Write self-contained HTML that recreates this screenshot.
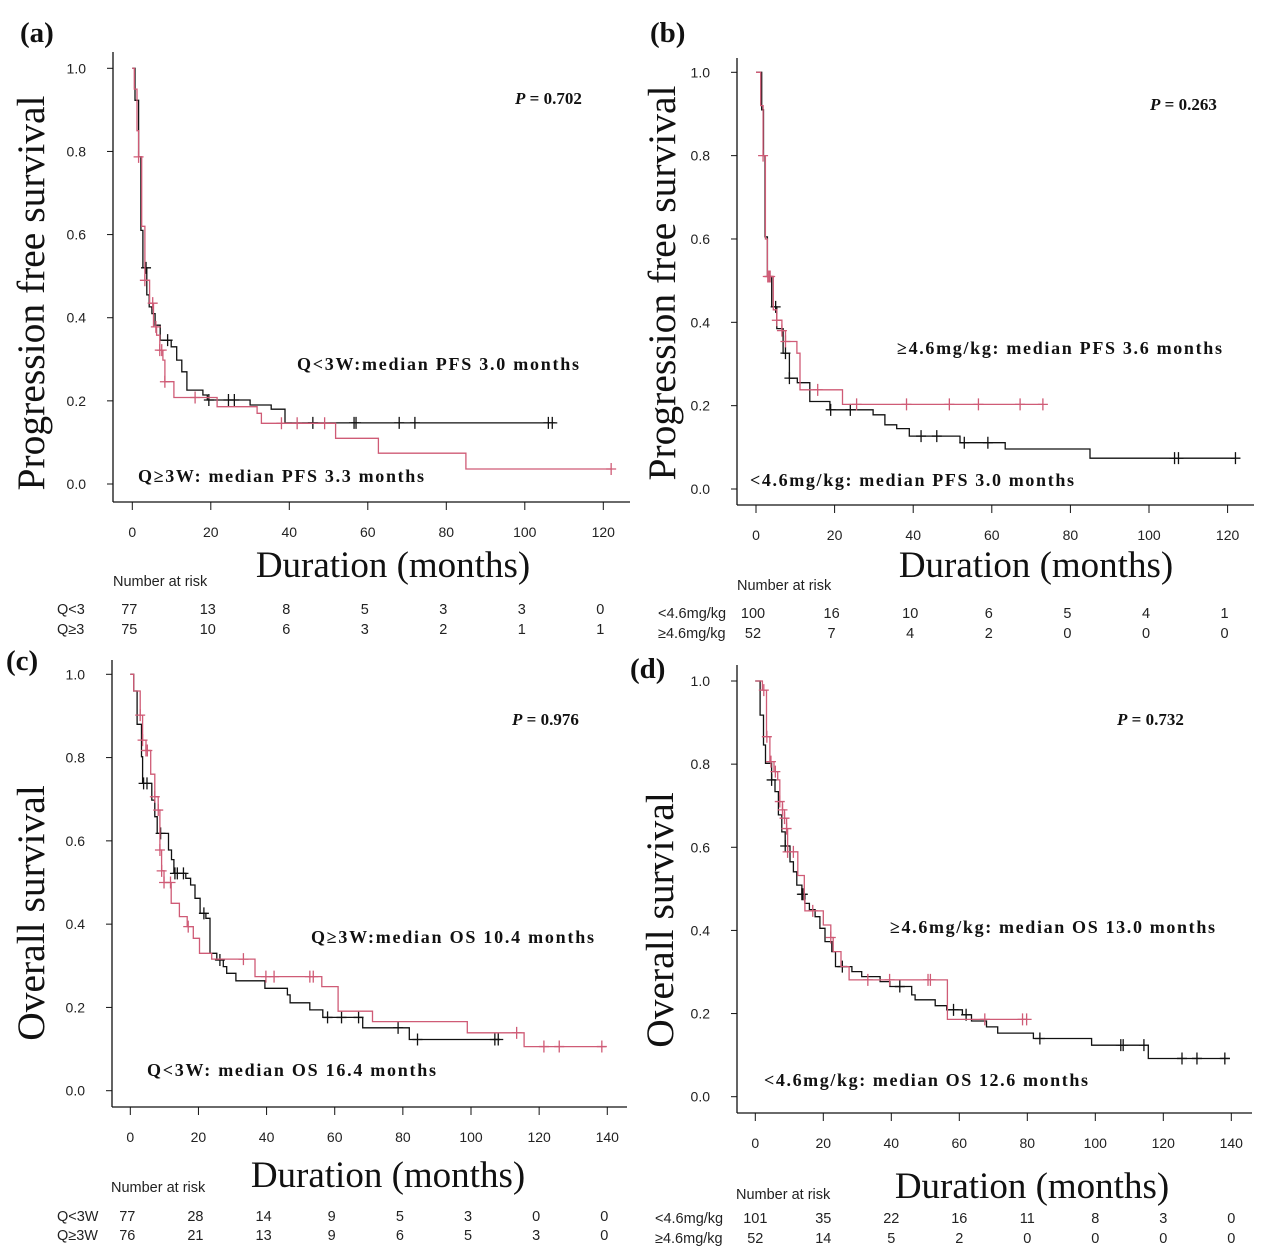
<!DOCTYPE html>
<html><head><meta charset="utf-8"><style>
html,body{margin:0;padding:0;background:#fff}
svg{display:block}
.tk{font-family:"Liberation Sans",sans-serif;font-size:14px;fill:#222}
.rk{font-family:"Liberation Sans",sans-serif;font-size:14.5px;fill:#222}
.ser{font-family:"Liberation Serif",serif;fill:#111}
</style></head><body>
<svg id="fig" width="1280" height="1255" viewBox="0 0 1280 1255" xmlns="http://www.w3.org/2000/svg"></svg>
<script>
// ---- data (months, survival probability) ----
const aBlackT=[0.7,1.6,2.2,2.7,3.7,4.3,5,5.8,7.1,9.9,11.3,12.6,13.9,18,19.1,30,35.4,38.9];
const aBlackS=[.923,.787,.61,.52,.455,.426,.41,.382,.346,.33,.298,.27,.226,.214,.202,.19,.18,.147];
const aBlackEnd=107.8;
const aBlackC=[3.5,9,19.5,24.5,26,46,56.5,57,68,72,106,107];
const aRedT=[0.5,1.2,1.6,2.4,3.2,4.4,5.4,6.2,7,7.8,8.3,10.6,21.6,31.8,32.9,51.8,62.7,85];
const aRedS=[.95,.85,.787,.62,.49,.435,.378,.358,.322,.298,.246,.208,.186,.17,.146,.11,.074,.036];
const aRedEnd=122;
const aRedC=[1.6,3.2,5.2,6,7,7.5,8.3,16,38,42,49,122];

const bBlackT=[1.45,1.9,2.3,2.9,4,5.3,6.9,8.5,10.5,13.7,18.8,29.8,32.8,35.8,39,51.9,63.4,85];
const bBlackS=[.91,.8,.605,.51,.437,.385,.326,.266,.255,.21,.19,.178,.154,.145,.127,.111,.096,.074];
const bBlackEnd=122;
const bBlackC=[5,7.5,8.5,19,24,42,46,53,59,106.5,107.5,122];
const bRedT=[1.2,1.8,2.4,2.9,4.4,5.3,6.6,7.5,10.4,11.2,22];
const bRedS=[.92,.8,.6,.51,.43,.405,.38,.354,.326,.238,.203];
const bRedEnd=73;
const bRedC=[1.8,3,3.3,3.6,5.3,6.6,7.5,15.7,25.6,38.3,49.2,56.6,67.2,73];

const cBlackT=[1,2,3.3,3.6,6.3,7.2,7.9,11.2,12.1,12.8,16.3,17.7,19,20.5,22.2,23.4,25.4,27.3,28.3,31,39.5,46.1,46.9,52.7,56.5,68.2,81.9];
const cBlackS=[.96,.88,.802,.738,.698,.658,.618,.578,.555,.522,.51,.494,.462,.426,.414,.33,.314,.298,.282,.264,.246,.23,.211,.194,.176,.151,.123];
const cBlackEnd=108.5;
const cBlackC=[3.9,4.9,8.9,13.1,13.8,15.6,21.6,26.3,57.9,62,67,78.6,84.3,107,108];
const cRedT=[1,2.9,3.6,4.6,6,7.2,8.2,8.7,9.2,9.9,12,14.4,16.7,18.5,20.3,23.9,36.6,56.2,61,71.1,98.9,115.6];
const cRedS=[.96,.902,.842,.817,.76,.706,.674,.578,.528,.5,.45,.418,.394,.366,.33,.316,.274,.25,.191,.166,.139,.106];
const cRedEnd=139.6;
const cRedC=[2.9,3.6,4.6,5,7.2,8.2,8.7,9.2,9.9,11.8,17,33.2,39.8,42.2,52.7,53.7,113.4,121.4,125.9,138.4];

const dBlackT=[1.4,2.4,3,4.8,5.8,6.8,7.8,8.8,10.2,11.2,12.2,13.7,14.6,15.9,17.6,19,20.5,22.5,23.6,28.4,31.3,36.7,39.6,46,47,52.9,56.3,60.9,63.6,68,71.3,81.8,98.9,115.6];
const dBlackS=[.918,.846,.802,.762,.734,.678,.637,.603,.565,.541,.509,.487,.465,.45,.433,.405,.373,.349,.313,.301,.289,.277,.265,.245,.233,.219,.209,.197,.182,.168,.153,.14,.124,.092];
const dBlackEnd=139.6;
const dBlackC=[4.8,8.8,13.7,14,25.6,42.5,58.3,62,83.7,107.5,108.2,114.3,125.5,129.9,138.1];
const dRedT=[2.1,3.3,4.3,5.5,6.6,7.2,8,8.6,9.2,9.5,12.5,14.4,14.6,20,22.2,22.9,25.2,27.6,56.5];
const dRedS=[.978,.866,.806,.782,.762,.71,.69,.67,.645,.589,.532,.473,.447,.413,.383,.349,.313,.281,.186];
const dRedEnd=79.8;
const dRedC=[2.5,3.4,4.6,5.9,7.2,8,8.6,9.2,9.5,11.2,16.9,22.2,33.1,39.5,50.8,51.5,67.5,78.6,79.8];

const yTicks=["0.0","0.2","0.4","0.6","0.8","1.0"];
const xTicksPFS=[0,20,40,60,80,100,120];
const xTicksOS=[0,20,40,60,80,100,120,140];
const aRisk1=[77,13,8,5,3,3,0], aRisk2=[75,10,6,3,2,1,1];
const bRisk1=[100,16,10,6,5,4,1], bRisk2=[52,7,4,2,0,0,0];
const cRisk1=[77,28,14,9,5,3,0,0], cRisk2=[76,21,13,9,6,5,3,0];
const dRisk1=[101,35,22,16,11,8,3,0], dRisk2=[52,14,5,2,0,0,0,0];

const RED="#cf5b76", REDTXT="#b9506b";
const NS="http://www.w3.org/2000/svg";
const svg=document.getElementById('fig');
function mk(tag,attrs,parent,text){const e=document.createElementNS(NS,tag);for(const k in attrs)e.setAttribute(k,attrs[k]);if(text!==undefined)e.textContent=text;(parent||svg).appendChild(e);return e;}

function panel(cfg){
  const g=mk('g',{});
  
  
  const X=t=>cfg.x0+t*cfg.ppm;
  const Y=s=>cfg.y0-s*(cfg.y0-cfg.y1);
  const ya=mk('line',{x1:cfg.ax,y1:cfg.axTop,x2:cfg.ax,y2:cfg.ay,stroke:'#111','stroke-width':1.3},g);
  
  const xa=mk('line',{x1:cfg.ax,y1:cfg.ay,x2:cfg.axRight,y2:cfg.ay,stroke:'#111','stroke-width':1.3},g);
  
  yTicks.forEach(lbl=>{const y=Y(parseFloat(lbl));
    mk('line',{x1:cfg.ax-6,y1:y,x2:cfg.ax,y2:y,stroke:'#111','stroke-width':1},g);
    const t=mk('text',{x:cfg.ax-27,y:y+5,'text-anchor':'end',class:'tk'},g,lbl);
    });
  cfg.xt.forEach(v=>{const x=X(v);
    mk('line',{x1:x,y1:cfg.ay,x2:x,y2:cfg.ay+8,stroke:'#111','stroke-width':1},g);
    const t=mk('text',{x:x,y:cfg.ay+35,'text-anchor':'middle',class:'tk'},g,String(v));
    });
  cfg.series.forEach(sr=>{
    let d='M'+X(0)+','+Y(1);
    sr.t.forEach((t,i)=>{d+=' H'+X(t).toFixed(1)+' V'+Y(sr.s[i]).toFixed(1);});
    d+=' H'+X(sr.end).toFixed(1);
    const p=mk('path',{d:d,fill:'none',stroke:sr.col,'stroke-width':1.3},g);
    
    sr.c.forEach(ct=>{let s=1;sr.t.forEach((t,i)=>{if(t<=ct)s=sr.s[i];});
      const x=X(ct),y=Y(s);
      const m=mk('path',{d:'M'+(x-5)+','+y+' H'+(x+5)+' M'+x+','+(y-6)+' V'+(y+6),stroke:sr.col,'stroke-width':1.3,fill:'none'},g);
      });
  });
  cfg.texts.forEach(tx=>{
    const t=mk('text',Object.assign({class:'ser'},tx.a),g,tx.s);
    });
  const pv=mk('text',{x:cfg.p[0],y:cfg.p[1],class:'ser','font-size':17,'font-weight':'bold'},g);
  
  mk('tspan',{'font-style':'italic'},pv,'P');mk('tspan',{},pv,' = '+cfg.p[2]);
  const h=mk('text',{x:cfg.risk.hx,y:cfg.risk.hy,class:'rk'},g,'Number at risk');
  
  [[cfg.risk.l1,cfg.risk.r1,cfg.risk.y1],[cfg.risk.l2,cfg.risk.r2,cfg.risk.y2]].forEach(([lab,arr,y])=>{
    const l=mk('text',{x:cfg.risk.lx,y:y,class:'rk'},g,lab);
    
    arr.forEach((v,i)=>{const t=mk('text',{x:X(cfg.xt[i])+cfg.risk.dx,y:y,'text-anchor':'middle',class:'rk'},g,String(v));
      });
  });
}

function lab(x,y,s,n,extra){return {s:s,n:n,a:Object.assign({x:x,y:y},extra||{})};}
function ytitle(x,y,s){return {s:s,n:'y-axis-title',a:{x:0,y:0,'font-size':39.5,'text-anchor':'middle',transform:'translate('+x+','+y+') rotate(-90)'}};}
const big={'font-size':29,'font-weight':'bold'};
const xt={'font-size':37,'text-anchor':'middle'};

panel({id:'a',x0:132.3,ppm:3.925,y0:484,y1:68.3,ax:113,axTop:52,ay:502,axRight:630,xt:xTicksPFS,
 series:[{name:'q-lt-3w',t:aBlackT,s:aBlackS,end:aBlackEnd,c:aBlackC,col:'#111'},{name:'q-ge-3w',t:aRedT,s:aRedS,end:aRedEnd,c:aRedC,col:RED}],
 texts:[lab(20,42,'(a)','panel-label',big),ytitle(44,293,'Progression free survival'),
  lab(393,577,'Duration (months)','x-axis-title',xt),
  lab(297,370,'Q<3W:median PFS 3.0 months','black-median-label',{'font-size':18,'font-weight':'bold',textLength:282}),
  lab(138,482,'Q≥3W: median PFS 3.3 months','red-median-label',{'font-size':18,'font-weight':'bold',textLength:286,fill:REDTXT})],
 p:[515,104,'0.702'],
 risk:{hx:113,hy:586,lx:57,y1:614,y2:634,l1:'Q<3',l2:'Q≥3',r1:aRisk1,r2:aRisk2,dx:-3}});

panel({id:'b',x0:756,ppm:3.93,y0:489,y1:72.3,ax:737,axTop:58,ay:505,axRight:1254,xt:xTicksPFS,
 series:[{name:'lt-4.6mgkg',t:bBlackT,s:bBlackS,end:bBlackEnd,c:bBlackC,col:'#111'},{name:'ge-4.6mgkg',t:bRedT,s:bRedS,end:bRedEnd,c:bRedC,col:RED}],
 texts:[lab(650,42,'(b)','panel-label',big),ytitle(675,283,'Progression free survival'),
  lab(1036,577,'Duration (months)','x-axis-title',xt),
  lab(897,354,'≥4.6mg/kg: median PFS 3.6 months','red-median-label',{'font-size':18,'font-weight':'bold',textLength:325,fill:REDTXT}),
  lab(750,486,'<4.6mg/kg: median PFS 3.0 months','black-median-label',{'font-size':18,'font-weight':'bold',textLength:324})],
 p:[1150,110,'0.263'],
 risk:{hx:737,hy:590,lx:658,y1:618,y2:638,l1:'<4.6mg/kg',l2:'≥4.6mg/kg',r1:bRisk1,r2:bRisk2,dx:-3}});

panel({id:'c',x0:130.3,ppm:3.407,y0:1090.7,y1:674.3,ax:112,axTop:660,ay:1107,axRight:627,xt:xTicksOS,
 series:[{name:'q-lt-3w',t:cBlackT,s:cBlackS,end:cBlackEnd,c:cBlackC,col:'#111'},{name:'q-ge-3w',t:cRedT,s:cRedS,end:cRedEnd,c:cRedC,col:RED}],
 texts:[lab(6,670,'(c)','panel-label',big),ytitle(44,913,'Overall survival'),
  lab(388,1187,'Duration (months)','x-axis-title',xt),
  lab(311,943,'Q≥3W:median OS 10.4 months','red-median-label',{'font-size':18,'font-weight':'bold',textLength:283,fill:REDTXT}),
  lab(147,1076,'Q<3W: median OS 16.4 months','black-median-label',{'font-size':18,'font-weight':'bold',textLength:289})],
 p:[512,725,'0.976'],
 risk:{hx:111,hy:1192,lx:57,y1:1221,y2:1240,l1:'Q<3W',l2:'Q≥3W',r1:cRisk1,r2:cRisk2,dx:-3}});

panel({id:'d',x0:755.3,ppm:3.4,y0:1096.7,y1:681,ax:737,axTop:665,ay:1113,axRight:1252,xt:xTicksOS,
 series:[{name:'lt-4.6mgkg',t:dBlackT,s:dBlackS,end:dBlackEnd,c:dBlackC,col:'#111'},{name:'ge-4.6mgkg',t:dRedT,s:dRedS,end:dRedEnd,c:dRedC,col:RED}],
 texts:[lab(630,678,'(d)','panel-label',big),ytitle(673,920,'Overall survival'),
  lab(1032,1198,'Duration (months)','x-axis-title',xt),
  lab(890,933,'≥4.6mg/kg: median OS 13.0 months','red-median-label',{'font-size':18,'font-weight':'bold',textLength:325,fill:REDTXT}),
  lab(764,1086,'<4.6mg/kg: median OS 12.6 months','black-median-label',{'font-size':18,'font-weight':'bold',textLength:324})],
 p:[1117,725,'0.732'],
 risk:{hx:736,hy:1199,lx:655,y1:1223,y2:1243,l1:'<4.6mg/kg',l2:'≥4.6mg/kg',r1:dRisk1,r2:dRisk2,dx:0}});
</script>
</body></html>
